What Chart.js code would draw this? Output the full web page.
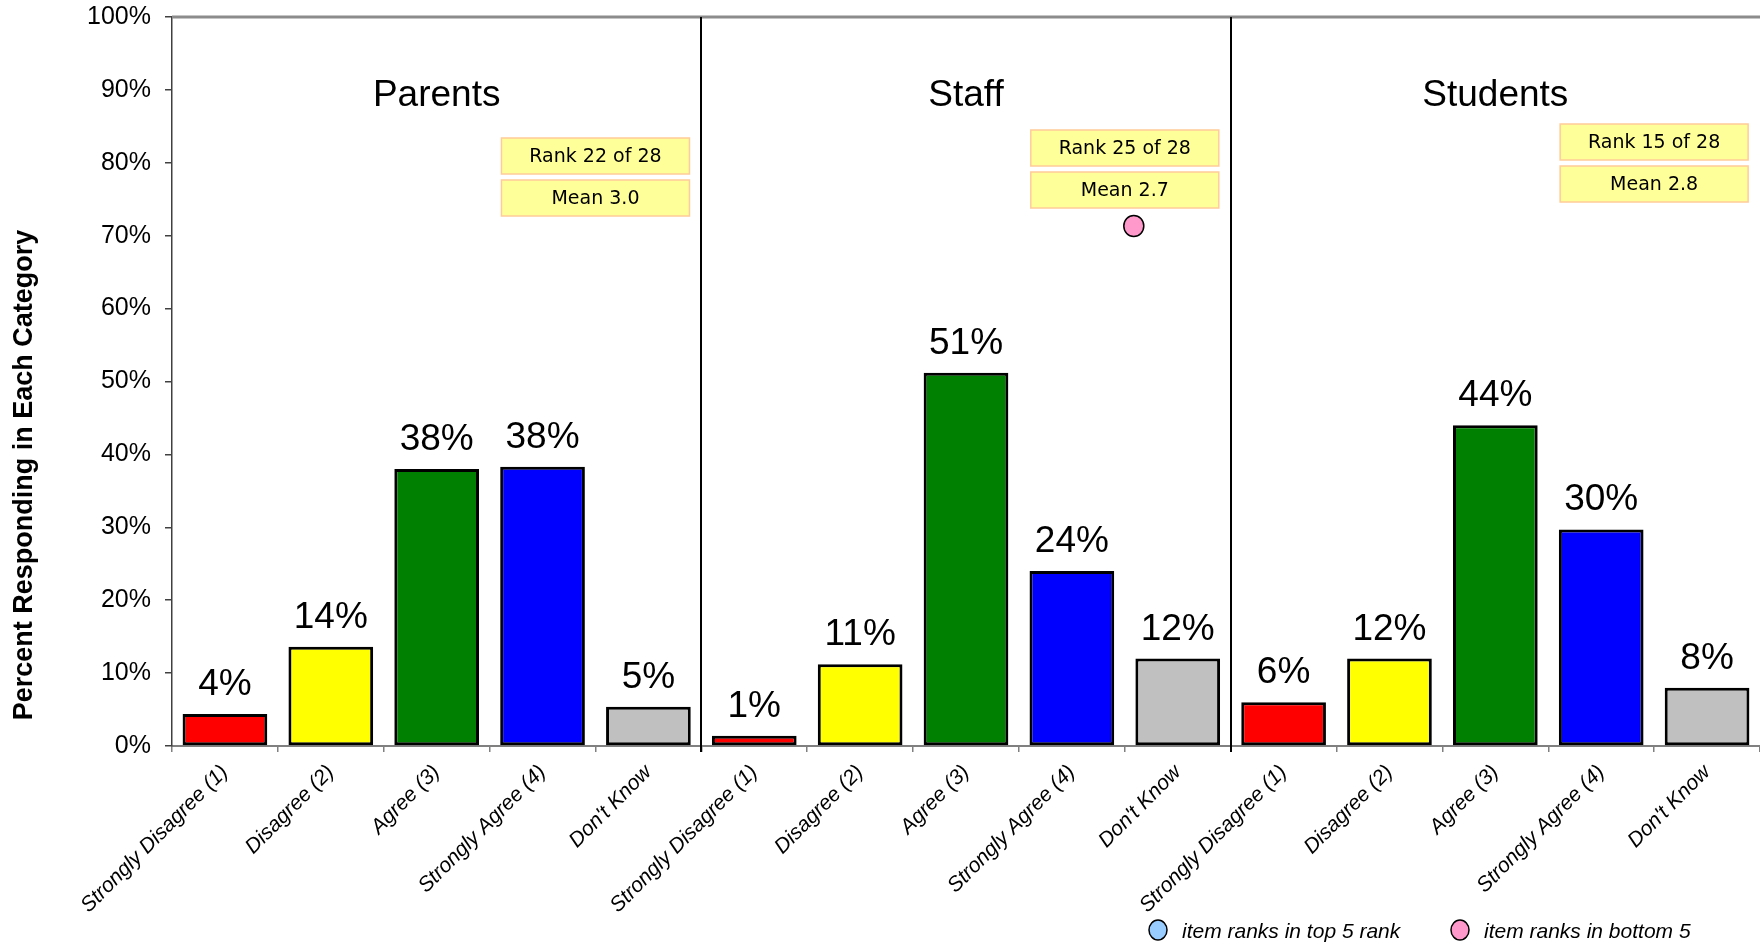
<!DOCTYPE html>
<html>
<head>
<meta charset="utf-8">
<script src="https://cdn.jsdelivr.net/npm/chart.js@4/dist/chart.umd.min.js"></script>
<style>
  html, body { margin: 0; padding: 0; background: #fff; }
  canvas { display: block; }
</style>
</head>
<body>
<canvas id="chart" width="1760" height="946"></canvas>
<script>
// ─── Data ────────────────────────────────────────────────────────────────────
const groups = ['Parents', 'Staff', 'Students'];
const responses = ['Strongly Disagree (1)', 'Disagree (2)', 'Agree (3)', 'Strongly Agree (4)', "Don't Know"];
const responseColors = ['#FF0000', '#FFFF00', '#008000', '#0000FF', '#C0C0C0'];
const parentsPct = [4.4, 13.6, 38.0, 38.3, 5.4];
const staffPct = [1.4, 11.2, 51.2, 24.0, 12.0];
const studentsPct = [6.0, 12.0, 44.0, 29.7, 8.0];
const rankLabels = ['Rank 22 of 28', 'Rank 25 of 28', 'Rank 15 of 28'];
const meanLabels = ['Mean 3.0', 'Mean 2.7', 'Mean 2.8'];
const bottomFive = [false, true, false];
const yTicks = [0, 10, 20, 30, 40, 50, 60, 70, 80, 90, 100];
const legendItems = ['item ranks in top 5 rank', 'item ranks in bottom 5'];

const labels = groups.flatMap(() => responses);
const values = [...parentsPct, ...staffPct, ...studentsPct];
const colors = groups.flatMap(() => responseColors);

// ─── Decorations (group names, dividers, rank boxes, value labels, legend) ──
const decor = {
  id: 'decor',
  afterDatasetsDraw(chart) {
    const { ctx, chartArea: a, scales: { x, y } } = chart;
    const n = responses.length;
    ctx.save();

    // top border of the plot area
    ctx.strokeStyle = '#8c8c8c'; ctx.lineWidth = 3;
    ctx.beginPath(); ctx.moveTo(a.left, a.top); ctx.lineTo(a.right, a.top); ctx.stroke();

    // dividers between groups
    ctx.strokeStyle = '#000'; ctx.lineWidth = 2;
    for (let g = 1; g < groups.length; g++) {
      const dx = Math.round((x.getPixelForTick(g * n - 1) + x.getPixelForTick(g * n)) / 2);
      ctx.beginPath(); ctx.moveTo(dx, a.top); ctx.lineTo(dx, a.bottom + 6); ctx.stroke();
    }

    // value labels
    ctx.fillStyle = '#000';
    ctx.font = '37px "Liberation Sans", Arial, sans-serif';
    ctx.textAlign = 'center'; ctx.textBaseline = 'alphabetic';
    chart.getDatasetMeta(0).data.forEach((bar, i) => {
      ctx.fillText(Math.round(values[i]) + '%', bar.x, bar.y - 19);
    });

    // group titles
    ctx.font = '37px "Liberation Sans", Arial, sans-serif';
    groups.forEach((name, g) => {
      ctx.fillText(name, x.getPixelForTick(g * n + 2), 106);
    });

    // rank / mean boxes
    const boxTops = [138, 130, 124];
    const boxW = 188, boxH = 36, gap = 6;
    ctx.font = '19px "DejaVu Sans", sans-serif';
    ctx.textBaseline = 'middle';
    groups.forEach((name, g) => {
      const cx = (x.getPixelForTick(g * n + 3) + x.getPixelForTick(g * n + 4)) / 2;
      [rankLabels[g], meanLabels[g]].forEach((txt, k) => {
        const top = boxTops[g] + k * (boxH + gap);
        ctx.fillStyle = '#FFFF99';
        ctx.fillRect(cx - boxW / 2, top, boxW, boxH);
        ctx.strokeStyle = '#FFCC99'; ctx.lineWidth = 1.5;
        ctx.strokeRect(cx - boxW / 2, top, boxW, boxH);
        ctx.fillStyle = '#000';
        ctx.fillText(txt, cx, top + boxH / 2 + 1);
      });
      if (bottomFive[g]) {
        const my = boxTops[g] + 2 * boxH + gap + 18;
        ctx.beginPath(); ctx.ellipse(cx + 9, my, 10, 10.5, 0, 0, Math.PI * 2);
        ctx.fillStyle = '#FF99CC'; ctx.fill();
        ctx.strokeStyle = '#000'; ctx.lineWidth = 1.5; ctx.stroke();
      }
    });

    // y axis title
    ctx.save();
    ctx.translate(25, 475);
    ctx.rotate(-Math.PI / 2);
    ctx.font = 'bold 27px "Liberation Sans", Arial, sans-serif';
    ctx.fillStyle = '#000'; ctx.textAlign = 'center'; ctx.textBaseline = 'middle';
    ctx.fillText('Percent Responding in Each Category', 0, 0);
    ctx.restore();

    // legend
    const legendX = [1158, 1460], legendFill = ['#99CCFF', '#FF99CC'];
    ctx.font = 'italic 21px "Liberation Sans", Arial, sans-serif';
    ctx.textAlign = 'left'; ctx.textBaseline = 'alphabetic';
    legendItems.forEach((txt, i) => {
      ctx.beginPath(); ctx.ellipse(legendX[i], 930, 9, 10, 0, 0, Math.PI * 2);
      ctx.fillStyle = legendFill[i]; ctx.fill();
      ctx.strokeStyle = '#000'; ctx.lineWidth = 1.5; ctx.stroke();
      ctx.fillStyle = '#000';
      ctx.fillText(txt, legendX[i] + 24, 938);
    });

    ctx.restore();
  }
};

// ─── Chart ──────────────────────────────────────────────────────────────────
new Chart(document.getElementById('chart').getContext('2d'), {
  type: 'bar',
  data: {
    labels,
    datasets: [{
      data: values,
      backgroundColor: colors,
      borderColor: '#000',
      borderWidth: 3,
      borderSkipped: false,
      barPercentage: 0.8,
      categoryPercentage: 1.0
    }]
  },
  options: {
    responsive: false,
    animation: false,
    layout: { padding: { top: 17, left: 0, right: 0, bottom: 0 } },
    plugins: { legend: { display: false }, tooltip: { enabled: false } },
    scales: {
      x: {
        grid: { offset: true, drawOnChartArea: false, drawTicks: true, tickLength: 6, color: '#808080', lineWidth: 1.5 },
        border: { color: '#808080', width: 2 },
        ticks: {
          autoSkip: false, maxRotation: 45, minRotation: 45, padding: 8, color: '#000',
          font: { family: '"Liberation Sans", Arial, sans-serif', size: 21, style: 'italic' }
        },
        afterFit(scale) { scale.height = 200; scale.paddingLeft = 0; scale.paddingRight = 0; }
      },
      y: {
        min: 0, max: 100,
        afterBuildTicks(scale) { scale.ticks = yTicks.map(v => ({ value: v })); },
        grid: { drawOnChartArea: false, drawTicks: true, tickLength: 7, color: '#404040', lineWidth: 1.5 },
        border: { color: '#404040', width: 1.5 },
        ticks: {
          padding: 14, color: '#000',
          font: { family: '"Liberation Sans", Arial, sans-serif', size: 25 },
          callback: v => v + '%'
        },
        afterFit(scale) { scale.width = 172; scale.paddingTop = 0; scale.paddingBottom = 0; }
      }
    }
  },
  plugins: [decor]
});
</script>
</body>
</html>
